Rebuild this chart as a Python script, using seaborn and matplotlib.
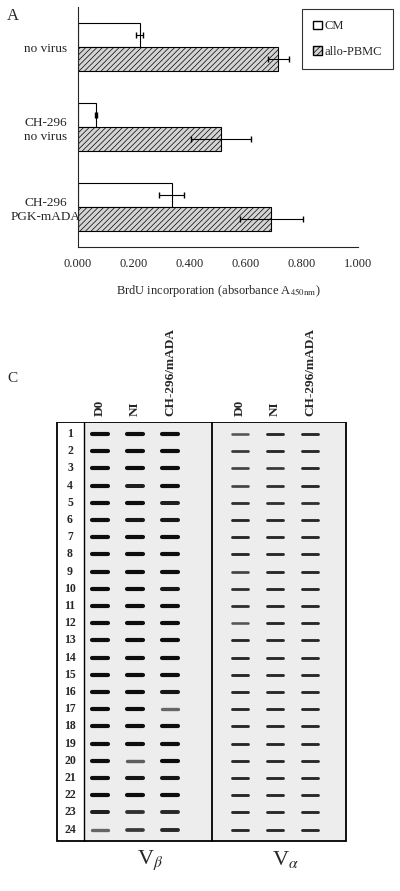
import numpy as np
import pandas as pd
import seaborn as sns
import matplotlib.pyplot as plt

sns.set_style("white")
plt.rcParams['font.family'] = ['Liberation Serif', 'DejaVu Serif']
plt.rcParams['mathtext.fontset'] = 'stix'
plt.rcParams['hatch.linewidth'] = 0.5

groups = ["no virus", "CH-296\nno virus", "CH-296\nPGK-mADA"]
series = ["CM", "allo-PBMC"]
cm_vals = [0.220, 0.065, 0.335]
cm_err = [0.013, 0.003, 0.045]
allo_vals = [0.715, 0.510, 0.690]
allo_err = [0.037, 0.108, 0.113]
xticks = [0.0, 0.2, 0.4, 0.6, 0.8, 1.0]

lanes = ["D0", "NI", "CH-296/mADA"]
rows = [str(i) for i in range(1, 25)]
# band intensity (0-1) per row, for Vbeta lanes and Valpha lanes
vb = np.array([
    [1, 1, 1], [1, 1, 1], [1, 1, 1], [1, .9, 1], [1, 1, .9], [1, .95, .95],
    [1, 1, 1], [1, 1, 1], [1, 1, 1], [1, 1, .95], [1, 1, 1], [1, 1, 1],
    [1, 1, 1], [1, 1, 1], [1, 1, 1], [1, 1, .95], [1, 1, .5], [1, 1, 1],
    [1, 1, 1], [1, .55, 1], [1, .95, .95], [1, 1, 1], [.9, .8, .85], [.5, .75, .85]])
va = np.array([
    [.6, .85, .85], [.75, .85, .85], [.7, .75, .85], [.7, .8, .85], [.8, .8, .8], [.85, .85, .85],
    [.85, .85, .85], [.85, .85, .85], [.7, .85, .85], [.8, .85, .85], [.8, .85, .85], [.6, .85, .85],
    [.85, .85, .85], [.85, .85, .85], [.85, .85, .85], [.85, .85, .85], [.85, .85, .85], [.85, .85, .85],
    [.85, .85, .85], [.85, .85, .85], [.85, .85, .85], [.85, .85, .85], [.85, .85, .85], [.85, .85, .85]])

W, H = 400, 891
fig = plt.figure(figsize=(4, 8.91), dpi=100)

# ---------- Panel A ----------
ax = fig.add_axes([78 / W, 1 - 247 / H, 280 / W, 240 / H])
df = pd.DataFrame({"group": groups * 2, "series": [series[0]] * 3 + [series[1]] * 3,
                   "value": cm_vals + allo_vals})
sns.barplot(data=df, y="group", x="value", hue="series", order=groups, hue_order=series,
            orient="h", width=0.6, ax=ax, errorbar=None, legend=False,
            palette=["white", "#d4d4d4"], edgecolor="black", linewidth=0.8)
for p in ax.patches[3:6]:
    p.set_hatch("//////")
ypos = np.arange(len(groups))
ax.errorbar(cm_vals, ypos - 0.15, xerr=cm_err, fmt="none", ecolor="black", elinewidth=0.8, capsize=2.5)
ax.errorbar(allo_vals, ypos + 0.15, xerr=allo_err, fmt="none", ecolor="black", elinewidth=0.8, capsize=2.5)
ax.set_xlim(0, 1.0)
ax.set_ylim(2.5, -0.5)
ax.set_xticks(xticks)
ax.set_xticklabels([f"{v:.3f}" for v in xticks], fontsize=9)
ax.set_yticks([-0.5, 0.5, 1.5, 2.5], minor=False)
ax.set_yticklabels([])
ax.set_yticks(ypos, minor=True)
ax.set_yticklabels(groups, minor=True, fontsize=9.5, ha="center", linespacing=1.3)
ax.tick_params(axis="y", which="minor", length=0, pad=23)
ax.tick_params(axis="y", which="major", length=4, direction="inout", width=0.8)
ax.tick_params(axis="x", length=4, direction="inout", width=0.8, pad=6)
ax.set_ylabel(""); ax.set_xlabel("BrdU incorporation (absorbance A$_{\\mathrm{450nm}}$)", fontsize=9, labelpad=9)
for s in ["top", "right"]:
    ax.spines[s].set_visible(False)
for s in ["left", "bottom"]:
    ax.spines[s].set_linewidth(0.8)
from matplotlib.patches import Patch
leg = fig.legend(handles=[Patch(facecolor="white", edgecolor="black", label="CM"),
                          Patch(facecolor="#d4d4d4", edgecolor="black", hatch="//////", label="allo-PBMC")],
                 loc="upper left", bbox_to_anchor=(302 / W, 1 - 9 / H), fontsize=9, frameon=True,
                 fancybox=False, edgecolor="black", handlelength=0.7, handleheight=0.7,
                 handletextpad=0.2, borderpad=0.9, labelspacing=1.1, borderaxespad=0)
leg.get_frame().set_linewidth(0.8)
fig.text(7 / W, 1 - 16 / H, "A", fontsize=12, va="center")

# ---------- Panel C ----------
bx = fig.add_axes([56 / W, 1 - 842 / H, 291 / W, 420 / H])
bx.set_xlim(56, 347); bx.set_ylim(842, 422)
bx.axis("off")
from matplotlib.patches import Rectangle
bx.add_patch(Rectangle((85, 422), 127, 420, facecolor="#ededed", edgecolor="none"))
bx.add_patch(Rectangle((212, 422), 135, 420, facecolor="#ededed", edgecolor="none"))
bx.add_patch(Rectangle((57, 422), 289, 419, facecolor="none", edgecolor="black", lw=1.3))
bx.plot([84, 84], [422, 841], color="black", lw=1)
bx.plot([212, 212], [422, 841], color="black", lw=1.3)
step = 17.2
for i, r in enumerate(rows):
    y = 434 + i * step
    bx.text(70, y, r, ha="center", va="center", fontsize=8.5, fontweight="bold")
    for j in range(3):
        for k, (arr, base, lw) in enumerate([(vb, 100, 3.0), (va, 240, 2.2)]):
            x = base + j * 35
            inten = arr[i, j]
            bx.plot([x - 8, x + 8], [y, y], color=str(0.75 - 0.7 * inten),
                    lw=lw * (0.6 + 0.4 * inten), solid_capstyle="round")
for k, base in enumerate([100, 240]):
    for j, lab in enumerate(lanes):
        fig.text((base + j * 35) / W, 1 - 416 / H, lab, rotation=90, ha="center", va="bottom",
                 fontsize=9.5, fontweight="bold")
fig.text(7 / W, 1 - 378 / H, "C", fontsize=11, va="center")
fig.text(150 / W, 1 - 860 / H, r"V$_\beta$", fontsize=16, ha="center", va="center")
fig.text(285 / W, 1 - 860 / H, r"V$_\alpha$", fontsize=16, ha="center", va="center")

fig.savefig("out.png", dpi=100)
